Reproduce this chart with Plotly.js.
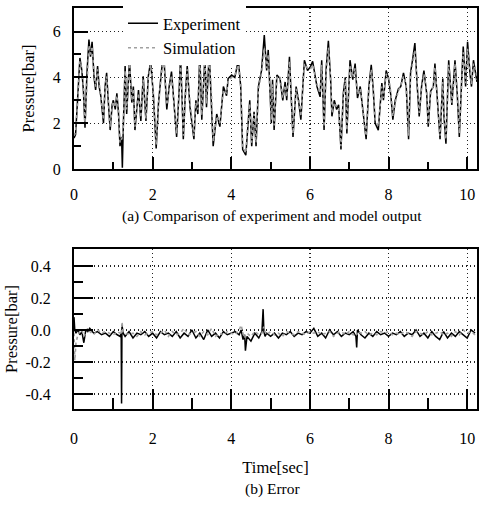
<!DOCTYPE html>
<html>
<head>
<meta charset="utf-8">
<script src="https://cdn.plot.ly/plotly-3.0.1.min.js"></script>
<style>html,body{margin:0;padding:0;background:#fff;}#chart{width:479px;height:508px;}</style>
</head>
<body>
<div id="chart"></div>
<script>
// ---- Data ----
var tP = [0.00,0.04,0.09,0.15,0.20,0.24,0.28,0.33,0.38,0.42,0.46,0.51,0.55,0.60,0.64,0.68,0.72,0.75,0.79,0.83,
0.87,0.92,0.97,1.00,1.05,1.09,1.13,1.17,1.21,1.23,1.25,1.30,1.34,1.41,1.47,1.51,1.55,1.64,1.70,1.76,
1.83,1.89,1.95,2.02,2.09,2.15,2.22,2.28,2.36,2.42,2.48,2.55,2.61,2.67,2.71,2.75,2.78,2.83,2.88,2.95,
3.05,3.10,3.15,3.20,3.25,3.33,3.37,3.44,3.50,3.54,3.63,3.71,3.80,3.88,3.92,4.01,4.09,4.18,4.24,4.29,
4.37,4.43,4.47,4.52,4.58,4.63,4.69,4.77,4.84,4.90,4.94,5.02,5.05,5.09,5.16,5.24,5.31,5.37,5.41,5.48,
5.57,5.65,5.71,5.77,5.86,5.94,6.01,6.07,6.18,6.26,6.30,6.36,6.41,6.47,6.53,6.56,6.62,6.68,6.73,6.79,
6.85,6.90,6.94,7.02,7.09,7.15,7.21,7.28,7.36,7.43,7.50,7.56,7.61,7.66,7.74,7.83,7.87,7.94,8.00,8.06,
8.11,8.17,8.25,8.31,8.38,8.45,8.51,8.56,8.61,8.67,8.73,8.78,8.84,8.90,8.97,9.01,9.07,9.14,9.18,9.24,
9.31,9.38,9.41,9.46,9.53,9.61,9.65,9.69,9.75,9.80,9.86,9.90,9.96,10.01,10.07,10.11,10.16,10.22,10.25];
var pressureExperiment = [1.35,1.5,3.0,4.85,4.3,3.4,1.8,4.2,5.65,4.9,5.55,4.0,3.45,4.5,3.6,3.2,2.5,2.0,3.6,4.2,
3.0,1.7,2.8,3.0,2.6,3.3,2.5,1.0,1.4,0.05,1.6,4.5,2.4,4.75,2.9,3.6,1.7,3.45,2.1,4.05,
2.1,4.05,4.7,3.2,0.9,2.9,4.2,5.1,2.6,3.6,4.25,2.5,1.4,3.3,4.85,3.0,1.3,3.2,4.5,2.7,
1.3,3.0,2.4,5.05,2.15,4.9,2.7,5.05,3.0,1.0,2.4,1.85,3.6,3.2,3.95,4.1,4.0,4.75,3.6,0.85,
0.6,2.3,3.0,1.0,2.5,1.0,3.6,4.3,5.85,4.3,5.2,2.0,3.9,1.7,4.1,3.95,3.0,3.8,3.0,4.9,
1.4,3.6,3.0,2.15,4.75,4.3,4.45,4.7,3.6,3.15,4.75,1.7,4.3,5.6,3.8,2.3,3.0,2.6,2.8,0.85,
3.3,4.0,1.55,4.75,3.9,4.6,3.1,3.6,2.3,1.3,3.6,4.55,3.5,2.0,1.7,3.75,3.0,4.3,3.95,3.2,
2.15,3.0,3.5,3.6,4.2,3.6,1.3,4.2,4.75,5.5,3.6,2.3,3.6,4.3,3.3,1.85,3.4,3.6,4.6,3.0,
1.3,3.95,2.3,1.1,4.75,2.8,3.6,4.75,3.2,1.4,3.9,5.35,3.6,5.55,4.2,3.6,4.75,4.2,3.8];
var pressureSimulation = [1.45,1.6,2.8,4.7,4.4,3.6,2.0,4.0,5.4,5.0,5.35,4.2,3.6,4.35,3.7,3.3,2.6,2.15,3.5,4.05,
3.15,1.85,2.7,2.95,2.7,3.2,2.6,1.15,1.3,1.4,1.7,4.3,2.6,4.6,3.0,3.5,1.85,3.3,2.25,3.9,
2.2,3.95,4.55,3.3,1.05,2.8,4.1,4.9,2.8,3.5,4.1,2.65,1.55,3.2,4.6,3.1,1.45,3.0,4.35,2.85,
1.45,2.9,2.6,4.8,2.35,4.7,2.85,4.85,3.15,1.2,2.3,2.0,3.45,3.3,3.85,4.0,4.1,4.55,3.7,1.0,
0.7,2.2,2.85,1.15,2.4,1.15,3.45,4.2,5.3,4.4,5.0,2.15,3.7,1.9,4.0,4.05,3.1,3.65,3.15,4.7,
1.55,3.5,3.1,2.3,4.6,4.4,4.35,4.55,3.7,3.3,4.55,1.85,4.15,5.3,3.9,2.45,2.9,2.7,2.7,1.0,
3.15,3.9,1.7,4.55,4.0,4.4,3.25,3.5,2.4,1.45,3.5,4.35,3.6,2.15,1.85,3.6,3.1,4.15,4.05,3.3,
2.3,2.9,3.4,3.65,4.05,3.7,1.45,4.0,4.6,5.2,3.7,2.45,3.5,4.15,3.4,2.0,3.3,3.65,4.45,3.1,
1.45,3.8,2.45,1.3,4.55,2.9,3.5,4.6,3.3,1.55,3.75,5.1,3.75,5.25,4.35,3.7,4.6,4.3,3.9];

var tErr = [0,0.02,0.05,0.1,0.15,0.2,0.25,0.3,0.35,0.4,0.5,0.6,0.7,0.8,0.9,1.0,1.1,1.17,1.2,1.21,1.22,1.25,1.3,1.4,
1.5,1.6,1.7,1.8,1.9,2.0,2.1,2.2,2.3,2.4,2.5,2.6,2.7,2.8,2.9,3.0,3.1,3.2,3.3,3.4,3.5,3.6,3.7,3.8,3.9,4.0,4.1,4.2,
4.25,4.3,4.34,4.36,4.4,4.5,4.6,4.7,4.78,4.81,4.83,4.86,4.9,5.0,5.1,5.2,5.3,5.4,5.5,5.6,5.7,5.8,5.9,6.0,6.1,6.2,
6.3,6.4,6.5,6.6,6.7,6.8,6.9,7.0,7.1,7.17,7.19,7.21,7.3,7.4,7.5,7.6,7.7,7.8,7.9,8.0,8.1,8.2,8.3,8.4,8.5,8.6,8.7,
8.8,8.9,9.0,9.1,9.2,9.3,9.4,9.5,9.6,9.7,9.8,9.9,10.0,10.1,10.2];
var errorExperiment = [0.08,0.0,-0.02,0.0,-0.03,-0.01,-0.08,0.0,-0.01,0.01,-0.02,-0.01,-0.03,-0.02,-0.04,-0.01,-0.03,-0.04,-0.02,-0.46,0.03,-0.02,-0.04,-0.01,
-0.05,-0.02,-0.03,-0.01,-0.04,-0.02,-0.05,-0.01,-0.03,-0.02,-0.04,-0.01,-0.05,-0.02,-0.04,0.0,-0.05,-0.02,-0.06,0.0,-0.04,-0.02,-0.05,-0.01,-0.03,-0.02,-0.01,-0.03,
0.0,-0.06,-0.03,-0.13,-0.04,-0.07,-0.02,-0.05,-0.01,0.13,-0.01,-0.04,-0.02,-0.04,-0.02,-0.05,-0.02,-0.03,-0.01,-0.04,-0.02,-0.03,-0.01,-0.02,0.01,-0.04,
-0.02,-0.05,0.0,-0.03,-0.01,-0.04,-0.02,-0.03,-0.01,-0.04,-0.11,0.0,-0.03,-0.05,-0.02,-0.04,-0.01,-0.03,-0.02,-0.04,-0.02,-0.03,-0.01,-0.04,-0.02,-0.03,0.0,
-0.04,-0.02,-0.05,-0.01,-0.04,-0.06,-0.01,-0.05,-0.02,-0.04,-0.01,-0.03,-0.05,0.0,-0.02];
var errorSimulation = [-0.02,-0.19,-0.08,-0.03,-0.01,0.0,-0.04,-0.01,0.01,-0.01,-0.03,0.0,-0.02,-0.01,-0.02,-0.03,-0.01,-0.02,0.0,-0.03,0.05,-0.01,-0.02,-0.03,
-0.02,-0.04,-0.01,-0.03,-0.02,-0.01,-0.03,-0.02,0.0,-0.04,-0.01,-0.03,-0.02,0.01,-0.03,-0.02,-0.01,-0.04,-0.01,-0.03,0.01,-0.04,-0.02,-0.03,-0.01,-0.02,-0.03,0.0,
0.03,-0.02,-0.05,-0.03,-0.02,-0.04,-0.01,-0.03,-0.02,0.0,0.02,-0.01,-0.03,-0.01,-0.03,-0.02,-0.04,-0.01,-0.02,-0.03,-0.01,-0.02,-0.03,-0.01,-0.02,-0.01,
-0.03,-0.02,-0.01,-0.04,-0.02,-0.01,-0.03,-0.01,-0.03,-0.02,-0.03,-0.01,-0.02,-0.01,-0.03,-0.02,-0.03,-0.01,-0.02,-0.01,-0.03,-0.02,-0.03,-0.01,-0.02,-0.04,-0.01,
-0.02,-0.03,-0.01,-0.03,-0.02,-0.01,-0.03,-0.02,-0.04,-0.01,-0.03,0.0,-0.02,-0.01,-0.03];

var xTickVals = [0,2,4,6,8,10];
var xTickText = ['0','2','4','6','8','10'];
var yTopTickVals = [0,2,4,6];
var yTopTickText = ['0','2','4','6'];
var yBotTickVals = [-0.4,-0.2,0,0.2,0.4];
var yBotTickText = ['-0.4','-0.2','0.0','0.2','0.4'];

var seriesNames = ['Experiment','Simulation'];
var yTitle = 'Pressure[bar]';
var xTitle = 'Time[sec]';
var captionA = '(a) Comparison of experiment and model output';
var captionB = '(b) Error';

// ---- Plot ----
var FONT = 'Liberation Serif, Times New Roman, serif';
var expLine = {color:'#000000', width:1.5};
var simLine = {color:'#a0a0a0', width:1.6, dash:'dot'};

var traces = [
  {x:tP, y:pressureExperiment, type:'scatter', mode:'lines', name:seriesNames[0], line:expLine, xaxis:'x', yaxis:'y'},
  {x:tP, y:pressureSimulation, type:'scatter', mode:'lines', name:seriesNames[1], line:simLine, xaxis:'x', yaxis:'y'},
  {x:tErr, y:errorExperiment, type:'scatter', mode:'lines', name:seriesNames[0], line:expLine, xaxis:'x2', yaxis:'y2', showlegend:false},
  {x:tErr, y:errorSimulation, type:'scatter', mode:'lines', name:seriesNames[1], line:simLine, xaxis:'x2', yaxis:'y2', showlegend:false}
];

function axisBase(extra){
  var a = {
    showline:true, linecolor:'#000', linewidth:2, mirror:true,
    ticks:'inside', tickcolor:'#000', tickwidth:2,
    showgrid:true, gridcolor:'#222', griddash:'1px,3px', gridwidth:1.2,
    zeroline:false, tickmode:'array',
    tickfont:{family:FONT, size:16, color:'#000'}
  };
  for (var k in extra) a[k] = extra[k];
  return a;
}

var xDomain = [74/479, 477/479];
var layout = {
  width:479, height:508,
  margin:{l:0, r:0, t:0, b:0},
  paper_bgcolor:'#fff', plot_bgcolor:'#fff',
  font:{family:FONT, size:16, color:'#000'},
  showlegend:true,
  legend:{x:123/479, y:1-6/508, xanchor:'left', yanchor:'top', bgcolor:'#fff', borderwidth:0,
          font:{family:FONT, size:16.5, color:'#000'}, tracegroupgap:0},
  xaxis: axisBase({domain:xDomain, anchor:'y', range:[0,10.25], tickvals:xTickVals, ticktext:xTickText,
          ticklen:12, ticklabelstandoff:10,
          minor:{dtick:1, tick0:0, ticks:'inside', ticklen:7, tickwidth:2, tickcolor:'#000', showgrid:false}}),
  yaxis: axisBase({domain:[1-169/508, 1-8/508], anchor:'x', range:[0,7.03], tickvals:yTopTickVals, ticktext:yTopTickText,
          ticklen:14, ticklabelstandoff:8,
          minor:{dtick:1, tick0:0, ticks:'inside', ticklen:7, tickwidth:2, tickcolor:'#000', showgrid:false},
          title:{text:yTitle, font:{family:FONT, size:16.5, color:'#000'}, standoff:14}}),
  xaxis2: axisBase({domain:xDomain, anchor:'y2', range:[0,10.25], tickvals:xTickVals, ticktext:xTickText,
          ticklen:20, ticklabelstandoff:14,
          minor:{dtick:1, tick0:0, ticks:'inside', ticklen:11, tickwidth:2, tickcolor:'#000', showgrid:false},
          title:{text:xTitle, font:{family:FONT, size:16.5, color:'#000'}, standoff:15}}),
  yaxis2: axisBase({domain:[1-409/508, 1-249/508], anchor:'x2', range:[-0.494,0.506], tickvals:yBotTickVals, ticktext:yBotTickText,
          ticklen:19, ticklabelstandoff:18,
          minor:{dtick:0.1, tick0:0, ticks:'inside', ticklen:9, tickwidth:2, tickcolor:'#000', showgrid:false},
          title:{text:yTitle, font:{family:FONT, size:16.5, color:'#000'}, standoff:4}}),
  annotations:[
    {text:captionA, xref:'paper', yref:'paper', x:272/479, y:1-216/508, xanchor:'center', yanchor:'middle', showarrow:false,
     font:{family:FONT, size:15.5, color:'#000'}},
    {text:captionB, xref:'paper', yref:'paper', x:272/479, y:1-489/508, xanchor:'center', yanchor:'middle', showarrow:false,
     font:{family:FONT, size:15.5, color:'#000'}}
  ]
};

Plotly.newPlot('chart', traces, layout, {staticPlot:true, displayModeBar:false});
</script>
</body>
</html>
